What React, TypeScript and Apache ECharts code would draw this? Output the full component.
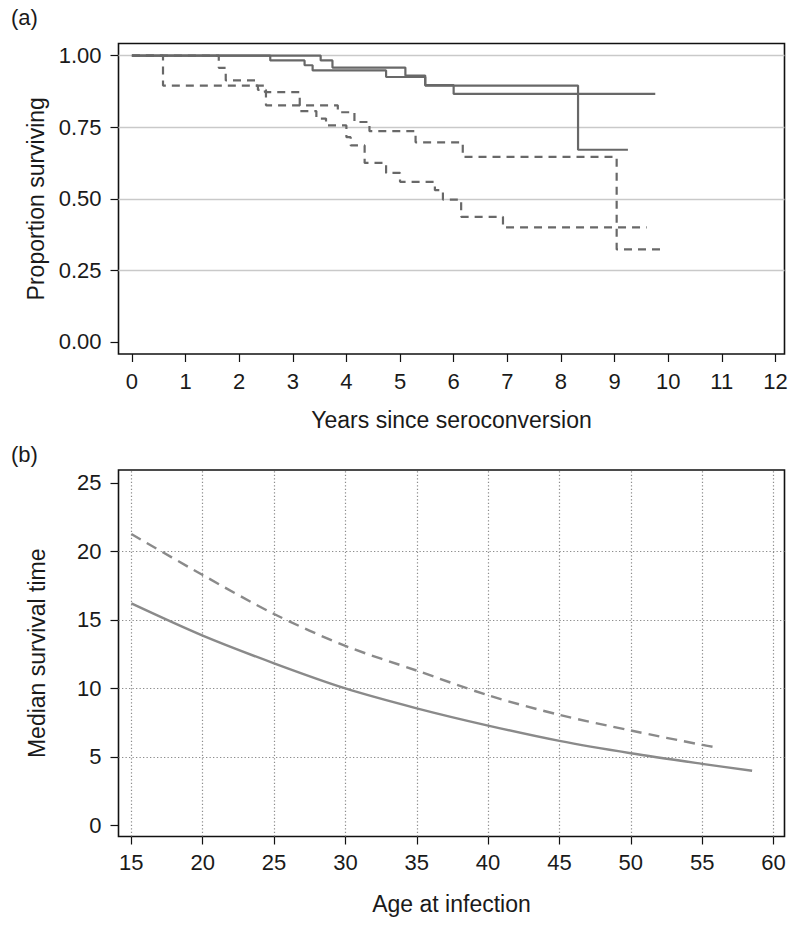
import React, { useEffect, useRef } from "react";
import * as echarts from "echarts";

// ---------- Panel (a): Kaplan-Meier curves ----------
const yearTicks = [0, 1, 2, 3, 4, 5, 6, 7, 8, 9, 10, 11, 12];
const propTicks = [0, 0.25, 0.5, 0.75, 1.0];
const propGrid = [0.25, 0.5, 0.75, 1.0];

const solidP_time = [0, 2.58, 3.22, 3.37, 4.74, 5.47, 6.0, 9.76];
const solidP_surv = [1, 0.983, 0.966, 0.948, 0.925, 0.897, 0.866, 0.866];
const solidQ_time = [0, 3.52, 3.74, 5.1, 5.47, 8.32, 9.25];
const solidQ_surv = [1, 0.983, 0.958, 0.93, 0.895, 0.671, 0.671];
const dashU_time = [0, 1.62, 1.75, 2.3, 2.48, 3.13, 3.84, 4.15, 4.43, 5.29, 6.17, 9.04, 9.88];
const dashU_surv = [1, 0.957, 0.913, 0.895, 0.872, 0.826, 0.802, 0.768, 0.736, 0.697, 0.646, 0.323, 0.323];
const dashL_time = [0, 0.58, 2.35, 2.5, 3.13, 3.44, 3.62, 4.0, 4.08, 4.34, 4.74, 5.0, 5.65, 5.8, 6.14, 6.92, 9.6];
const dashL_surv = [1, 0.895, 0.88, 0.826, 0.806, 0.78, 0.756, 0.715, 0.686, 0.625, 0.59, 0.559, 0.53, 0.497, 0.437, 0.4, 0.4];

// ---------- Panel (b): median survival vs age ----------
const ageTicks = [15, 20, 25, 30, 35, 40, 45, 50, 55, 60];
const medTicks = [0, 5, 10, 15, 20, 25];
const medGrid = [5, 10, 15, 20];

const ageSolid = [15, 20, 25, 30, 35, 40, 45, 50, 55, 58.5];
const medSolid = [16.2, 13.85, 11.83, 10.0, 8.55, 7.29, 6.17, 5.27, 4.5, 4.0];
const ageDashed = [15, 20, 25, 30, 35, 40, 45, 50, 55, 55.9];
const medDashed = [21.26, 18.27, 15.43, 13.1, 11.3, 9.5, 8.07, 6.93, 5.88, 5.71];

const zip = (a: number[], b: number[]) => a.map((v, i) => [v, b[i]]);

const FONT = "'Liberation Sans', Arial, Helvetica, sans-serif";
const KM_COLOR = "#686868";
const B_COLOR = "#8a8a8a";

export default function App() {
  const ref = useRef<HTMLDivElement>(null);

  useEffect(() => {
    if (!ref.current) return;
    const chart = echarts.init(ref.current, undefined, { renderer: "svg" });

    const tickLabel = { fontSize: 22, color: "#1a1a1a", fontFamily: FONT };
    const nameStyle = { fontSize: 23, color: "#1a1a1a", fontFamily: FONT };
    const tickLine = { color: "#111", width: 1.2 };

    const option: any = {
      animation: false,
      textStyle: { fontFamily: FONT },
      grid: [
        {
          left: 118.5, top: 43.5, width: 666, height: 310.5,
          show: true, borderColor: "#111", borderWidth: 1.6, backgroundColor: "transparent",
        },
        {
          left: 118.5, top: 470, width: 666, height: 366.5,
          show: true, borderColor: "#111", borderWidth: 1.6, backgroundColor: "transparent",
        },
      ],
      xAxis: [
        {
          type: "value", gridIndex: 0, min: -0.25, max: 12.17, position: "bottom",
          axisLine: { show: false, onZero: false },
          axisTick: { show: true, length: 8, customValues: yearTicks, lineStyle: tickLine },
          axisLabel: { ...tickLabel, margin: 16, customValues: yearTicks },
          splitLine: { show: false },
          name: "Years since seroconversion", nameLocation: "middle", nameGap: 54,
          nameTextStyle: nameStyle,
        },
        {
          type: "value", gridIndex: 1, min: 14.1, max: 60.77, position: "bottom",
          axisLine: { show: false, onZero: false },
          axisTick: { show: true, length: 8, customValues: ageTicks, lineStyle: tickLine },
          axisLabel: { ...tickLabel, margin: 15, customValues: ageTicks },
          splitLine: { show: false },
          name: "Age at infection", nameLocation: "middle", nameGap: 56,
          nameTextStyle: nameStyle,
        },
      ],
      yAxis: [
        {
          type: "value", gridIndex: 0, min: -0.042, max: 1.042, position: "left",
          axisLine: { show: false, onZero: false },
          axisTick: { show: true, length: 8, customValues: propTicks, lineStyle: tickLine },
          axisLabel: {
            ...tickLabel, margin: 17, customValues: propTicks,
            formatter: (v: number) => v.toFixed(2),
          },
          splitLine: { show: false },
          name: "Proportion surviving", nameLocation: "middle", nameGap: 70,
          nameTextStyle: nameStyle,
        },
        {
          type: "value", gridIndex: 1, min: -0.8, max: 25.93, position: "left",
          axisLine: { show: false, onZero: false },
          axisTick: { show: true, length: 8, customValues: medTicks, lineStyle: tickLine },
          axisLabel: { ...tickLabel, margin: 17, customValues: medTicks },
          splitLine: { show: false },
          name: "Median survival time", nameLocation: "middle", nameGap: 70,
          nameTextStyle: nameStyle,
        },
      ],
      graphic: [
        { type: "text", left: 11, top: 6, style: { text: "(a)", fontSize: 22, fill: "#1a1a1a", fontFamily: FONT } },
        { type: "text", left: 11, top: 443, style: { text: "(b)", fontSize: 22, fill: "#1a1a1a", fontFamily: FONT } },
      ],
      series: [
        {
          type: "line", xAxisIndex: 0, yAxisIndex: 0, data: [], z: 1, silent: true,
          markLine: {
            z: 1, silent: true, symbol: ["none", "none"], label: { show: false },
            lineStyle: { color: "#c9c9c9", width: 1.3, type: "solid" },
            emphasis: { disabled: true },
            data: propGrid.map((v) => ({ yAxis: v })),
          },
        },
        {
          type: "line", xAxisIndex: 1, yAxisIndex: 1, data: [], z: 1, silent: true,
          markLine: {
            z: 1, silent: true, symbol: ["none", "none"], label: { show: false },
            lineStyle: { color: "#8c8c8c", width: 1.2, type: [1.3, 2.2] },
            emphasis: { disabled: true },
            data: [
              ...medGrid.map((v) => ({ yAxis: v })),
              ...ageTicks.map((v) => ({ xAxis: v })),
            ],
          },
        },
        {
          type: "line", xAxisIndex: 0, yAxisIndex: 0, step: "end", symbol: "none", z: 3,
          data: zip(solidP_time, solidP_surv),
          lineStyle: { color: KM_COLOR, width: 2.2, type: "solid" },
        },
        {
          type: "line", xAxisIndex: 0, yAxisIndex: 0, step: "end", symbol: "none", z: 3,
          data: zip(solidQ_time, solidQ_surv),
          lineStyle: { color: KM_COLOR, width: 2.2, type: "solid" },
        },
        {
          type: "line", xAxisIndex: 0, yAxisIndex: 0, step: "end", symbol: "none", z: 3,
          data: zip(dashU_time, dashU_surv),
          lineStyle: { color: KM_COLOR, width: 2.2, type: [8, 6] },
        },
        {
          type: "line", xAxisIndex: 0, yAxisIndex: 0, step: "end", symbol: "none", z: 3,
          data: zip(dashL_time, dashL_surv),
          lineStyle: { color: KM_COLOR, width: 2.2, type: [8, 6] },
        },
        {
          type: "line", xAxisIndex: 1, yAxisIndex: 1, smooth: 0.3, symbol: "none", z: 3,
          data: zip(ageSolid, medSolid),
          lineStyle: { color: B_COLOR, width: 2.4, type: "solid" },
        },
        {
          type: "line", xAxisIndex: 1, yAxisIndex: 1, smooth: 0.3, symbol: "none", z: 3,
          data: zip(ageDashed, medDashed),
          lineStyle: { color: B_COLOR, width: 2.4, type: [11, 7] },
        },
      ],
    };

    chart.setOption(option);
    return () => chart.dispose();
  }, []);

  return (
    <div
      ref={ref}
      style={{ position: "absolute", left: 0, top: 0, width: 800, height: 928, background: "#fff" }}
    />
  );
}
